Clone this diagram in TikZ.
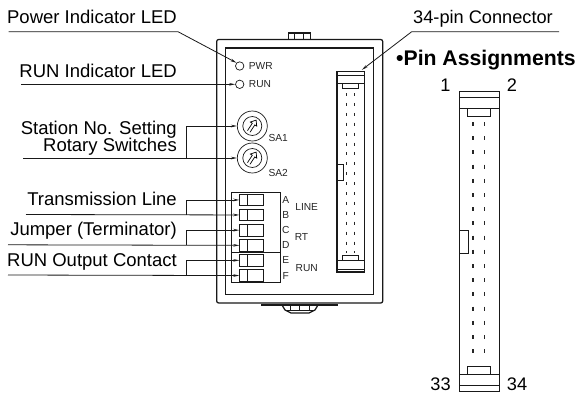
\documentclass[tikz,border=0pt]{standalone}
\usepackage{fontspec}
\setmainfont{Liberation Sans}
\usetikzlibrary{arrows.meta}
\tikzset{
  x=1pt,y=-1pt,
  thinline/.style={line width=0.7pt,black!90},
  heavy/.style={line width=1.25pt,black!90},
  lead/.style={line width=0.8pt,black!90},
  tip/.style={lead,-{Stealth[length=6pt,width=2.6pt]}},
  lab/.style={anchor=base east,inner sep=0pt,font=\fontsize{18.5}{20}\selectfont},
  lab2/.style={anchor=base,inner sep=0pt,font=\fontsize{18.2}{20}\selectfont},
  small/.style={anchor=center,inner sep=0pt,font=\fontsize{10.2}{12}\selectfont,text=black!85},
  led/.style={circle,draw,thinline,inner sep=0pt,minimum size=8.4pt},
  dial/.style={circle,draw,thinline,inner sep=0pt,minimum size=30pt},
  term/.style={rectangle,draw,thinline,inner sep=0pt,minimum width=23.4pt,minimum height=11.6pt,anchor=north west},
  pins/.style={line width=1.1pt,black!85,dash pattern=on 3pt off 6.9pt},
}
\newcommand{\dialface}[1]{%
  \draw[thinline] (#1) circle[radius=9.5];
  \begin{scope}[shift={(#1)},rotate=-33]
    \draw[line width=0.7pt] (-1.5,6.5) -- (-1.5,-2.3) -- (-3.8,-2.3) -- (0,-7) -- (3.8,-2.3) -- (1.5,-2.3) -- (1.5,6.5);
  \end{scope}}
\begin{document}
\begin{tikzpicture}
\useasboundingbox (0,0) rectangle (578,394);
\fill[white] (0,0) rectangle (578,394);
% housing
\draw[heavy,rounded corners=2pt] (216.7,39.5) rectangle (382.7,303);
\draw[heavy] (225.3,48) rectangle (373.7,294.7);
\draw[heavy] (288.7,39.5) -- (288.7,33) -- (310.3,33) -- (310.3,39.5);
\draw[thinline] (294.5,33) -- (294.5,39.5) (303.5,33) -- (303.5,39.5);
\draw[heavy] (261,305) -- (338,305);
\draw[heavy] (282,305) -- (285,310) -- (291,313) -- (309,313) -- (315,310) -- (318,305);
\draw[thinline] (285,310) -- (315,310) (290,305) -- (290,310) (299.5,305) -- (299.5,310) (309,305) -- (309,310);
% LEDs
\node[led] (pwr) at (239.7,66) {};
\node[led] (run) at (239.7,84.3) {};
\node[small,anchor=west] (pwrt) at (248.7,66) {PWR};
\node[small,anchor=west] (runt) at (248.7,84.3) {RUN};
% switches
\node[dial] (sa1) at (252.3,126) {};
\node[dial] (sa2) at (252.3,158) {};
\dialface{sa1}
\dialface{sa2}
\node[small,anchor=west] (sa1t) at (268.3,138) {SA1};
\node[small,anchor=west] (sa2t) at (268.3,173) {SA2};
% terminal block
\draw[line width=0.9pt,black!90] (231.3,192) rectangle (280.3,282.7);
\draw[line width=0.9pt,black!90] (231.3,252) -- (280.3,252);
\node[term] (ta) at (239.3,193.8) {};
\node[term] (tb) at (239.3,208.8) {};
\node[term] (tc) at (239.3,224) {};
\node[term] (td) at (239.3,239.2) {};
\node[term] (te) at (239.3,254.2) {};
\node[term] (tf) at (239.3,269.4) {};
\foreach \t in {ta,tb,tc,td,te,tf}{\draw[thinline] ([xshift=7.7pt]\t.north west) -- ([xshift=7.7pt]\t.south west);}
\foreach \l/\y in {A/200,B/215,C/230,D/245,E/260,F/276}{\node[small] (l\l) at (285.7,\y) {\l};}
\node[small] (line) at (306.7,207) {LINE};
\node[small] (rt) at (301.5,237) {RT};
\node[small] (runb) at (306.7,268) {RUN};
% on-board connector
\draw[heavy] (337,71.7) rectangle (364.3,272);
\draw[heavy] (337,75.7) -- (364.3,75.7) (337,83.3) -- (364.3,83.3) (337,260.3) -- (364.3,260.3) (337,269.3) -- (364.3,269.3);
\draw[thinline] (342.7,83.3) rectangle (358.3,88.3);
\draw[thinline] (342.7,260.3) rectangle (358.3,255);
\draw[thinline] (337,164.7) rectangle (343.3,180);
\draw[pins] (346.7,93) -- (346.7,253) (354.7,93) -- (354.7,253);
\node[inner sep=0pt,minimum size=0pt] (conn) at (361.7,70) {};
% pin diagram
\draw[line width=1pt,black!90] (459,91.7) rectangle (499.7,391.3);
\draw[line width=1pt,black!90] (459,97.3) -- (499.7,97.3) (459,108.3) -- (499.7,108.3) (459,374.7) -- (499.7,374.7) (459,385.7) -- (499.7,385.7);
\draw[thinline] (467.3,108.3) rectangle (490.7,116.7);
\draw[thinline] (467.3,374.7) rectangle (490.7,366.7);
\draw[line width=1pt,black!90] (459,230) rectangle (468,253);
\draw[pins,dash pattern=on 4pt off 10.2pt] (473,122) -- (473,362) (484.7,122) -- (484.7,362);
% labels
\node[lab] (t1) at (177,23) {Power Indicator LED};
\node[lab] (t2) at (177,77) {RUN Indicator LED};
\node[lab] (t3) at (177,134) {Station No. Setting};
\node[lab] (t4) at (177,151) {Rotary Switches};
\node[lab] (t5) at (177,205.7) {Transmission Line};
\node[lab] (t6) at (177,235.3) {Jumper (Terminator)};
\node[lab] (t7) at (177,266.7) {RUN Output Contact};
\node[lab2,anchor=base west] (t8) at (413,23) {34-pin Connector};
\node[lab2,anchor=base west,font=\fontsize{21.2}{24}\bfseries\selectfont] (t9) at (396,65.7) {•Pin Assignments};
\node[lab2] (p1) at (445.5,91) {1};
\node[lab2] (p2) at (512,91) {2};
\node[lab2] (p33) at (440.5,390.5) {33};
\node[lab2] (p34) at (517,390.5) {34};
% leaders
\coordinate (c1a) at (8.7,31.7);
\coordinate (c1b) at (178,31.7);
\draw[tip] (c1a) -- (c1b) -- (pwr.north west);
\coordinate (c2a) at (21,84.3);
\draw[tip] (c2a) -- (run.west);
\coordinate (c3a) at (23,158);
\coordinate (c3v) at (186,158);
\draw[tip] (c3a) -- (sa2.west);
\draw[tip] (c3v) |- (sa1.west);
\coordinate (c5a) at (26,214.5);
\coordinate (c5v) at (186,214.5);
\draw[tip] (c5a) -- (tb.west);
\draw[tip] (c5v) |- (ta.west);
\coordinate (c6a) at (8,244.8);
\coordinate (c6v) at (186,244.8);
\draw[tip] (c6a) -- (td.west);
\draw[tip] (c6v) |- (tc.west);
\coordinate (c7a) at (8,275);
\coordinate (c7v) at (186,275);
\draw[tip] (c7a) -- (tf.west);
\draw[tip] (c7v) |- (te.west);
\coordinate (c8a) at (559,31.7);
\coordinate (c8b) at (411.7,31.7);
\draw[tip] (c8a) -- (c8b) -- (conn);
\end{tikzpicture}
\end{document}
